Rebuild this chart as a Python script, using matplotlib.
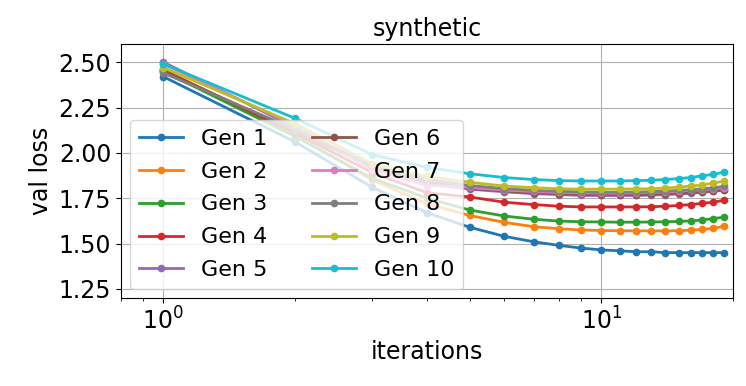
import numpy as np
import matplotlib
matplotlib.use("Agg")
import matplotlib.pyplot as plt

# ---------------- data ----------------
iterations = list(range(1, 20))

gen1 = [2.42, 2.06, 1.81, 1.67, 1.59, 1.54, 1.51, 1.49, 1.475, 1.465, 1.46, 1.455, 1.455, 1.45, 1.45, 1.45, 1.45, 1.45, 1.45]
gen2 = [2.46, 2.10, 1.85, 1.72, 1.655, 1.617, 1.593, 1.582, 1.575, 1.572, 1.571, 1.570, 1.570, 1.570, 1.571, 1.574, 1.578, 1.584, 1.595]
gen3 = [2.45, 2.09, 1.86, 1.75, 1.685, 1.652, 1.634, 1.624, 1.620, 1.619, 1.618, 1.618, 1.619, 1.620, 1.622, 1.625, 1.630, 1.638, 1.645]
gen4 = [2.455, 2.11, 1.89, 1.78, 1.757, 1.728, 1.715, 1.706, 1.702, 1.702, 1.702, 1.702, 1.703, 1.706, 1.710, 1.715, 1.722, 1.728, 1.738]
gen5 = [2.50, 2.14, 1.91, 1.83, 1.80, 1.785, 1.775, 1.770, 1.765, 1.765, 1.765, 1.765, 1.767, 1.770, 1.773, 1.777, 1.782, 1.788, 1.795]
gen6 = [2.45, 2.12, 1.92, 1.84, 1.805, 1.790, 1.780, 1.775, 1.772, 1.770, 1.770, 1.770, 1.772, 1.775, 1.778, 1.782, 1.786, 1.790, 1.795]
gen7 = [2.49, 2.15, 1.905, 1.82, 1.81, 1.795, 1.787, 1.782, 1.780, 1.778, 1.778, 1.780, 1.782, 1.785, 1.789, 1.793, 1.797, 1.802, 1.808]
gen8 = [2.44, 2.13, 1.93, 1.855, 1.82, 1.803, 1.793, 1.788, 1.785, 1.783, 1.783, 1.784, 1.786, 1.789, 1.793, 1.797, 1.802, 1.808, 1.815]
gen9 = [2.47, 2.16, 1.94, 1.87, 1.838, 1.817, 1.808, 1.802, 1.800, 1.800, 1.800, 1.801, 1.802, 1.806, 1.811, 1.817, 1.823, 1.834, 1.843]
gen10 = [2.49, 2.19, 1.99, 1.92, 1.885, 1.864, 1.853, 1.847, 1.845, 1.845, 1.845, 1.847, 1.849, 1.853, 1.858, 1.864, 1.874, 1.881, 1.894]

series = [gen1, gen2, gen3, gen4, gen5, gen6, gen7, gen8, gen9, gen10]
labels = [f"Gen {i}" for i in range(1, 11)]

# ---------------- plot ----------------
plt.rcParams["font.size"] = 16

fig, ax = plt.subplots(figsize=(7.46, 3.86), dpi=100)
fig.subplots_adjust(left=0.162, right=0.983, top=0.886, bottom=0.228)

for vals, lab in zip(series, labels):
    ax.plot(iterations, vals, marker="o", markersize=4.5, linewidth=2, label=lab)

ax.set_xscale("log")
ax.set_xlim(0.8, 20)
ax.set_ylim(1.2, 2.6)
ax.set_yticks([1.25, 1.50, 1.75, 2.00, 2.25, 2.50])
ax.grid(True)
ax.set_title("synthetic", fontsize=17)
ax.set_xlabel("iterations", fontsize=17)
ax.set_ylabel("val loss", fontsize=17)
ax.tick_params(labelsize=17)
ax.legend(loc="lower left", ncol=2, fontsize=16, borderaxespad=0.4,
          labelspacing=0.58)

fig.savefig("out.png", dpi=100)
